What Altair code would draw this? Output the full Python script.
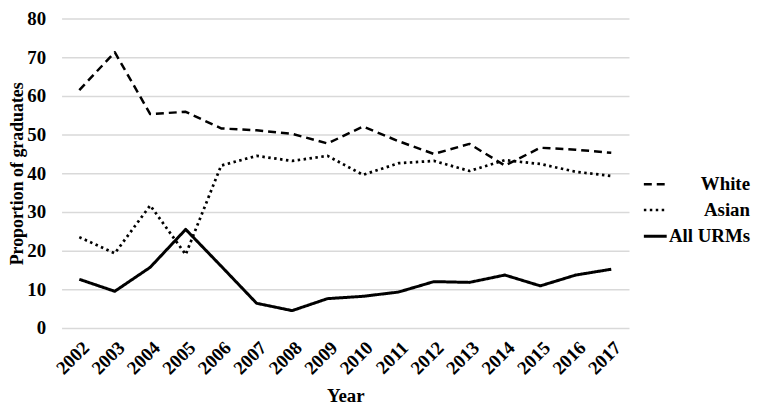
import altair as alt
import pandas as pd

years = [str(y) for y in range(2002, 2018)]
white = [61.5, 71.3, 55.3, 55.9, 51.6, 51.1, 50.2, 47.7, 52.1, 48.3, 45.0, 47.6, 42.0, 46.6, 46.1, 45.3]
asian = [23.5, 19.3, 31.7, 19.0, 42.0, 44.5, 43.2, 44.5, 39.6, 42.6, 43.2, 40.6, 43.4, 42.4, 40.4, 39.3]
urms = [12.6, 9.5, 15.7, 25.5, 16.0, 6.4, 4.5, 7.6, 8.2, 9.3, 12.0, 11.8, 13.7, 10.9, 13.7, 15.2]
groups = ["White", "Asian", "All URMs"]

rows = []
for name, vals in zip(groups, [white, asian, urms]):
    for y, v in zip(years, vals):
        rows.append({"Year": y, "Value": v, "Group": name})
df = pd.DataFrame(rows)

FONT = "Liberation Serif"

chart = alt.Chart(df).mark_line(color="black", strokeCap="butt", strokeJoin="round").encode(
    x=alt.X("Year:O", sort=years,
            scale=alt.Scale(paddingInner=1, paddingOuter=0.5),
            axis=alt.Axis(title="Year", labelAngle=-45, grid=False, domain=False, ticks=False,
                          labelFont=FONT, labelFontWeight="bold", labelFontSize=19, labelColor="black",
                          labelPadding=10, titleFont=FONT, titleFontWeight="bold", titleFontSize=19,
                          titleColor="black", titlePadding=9)),
    y=alt.Y("Value:Q", scale=alt.Scale(domain=[0, 80]),
            axis=alt.Axis(title="Proportion of graduates", values=[0, 10, 20, 30, 40, 50, 60, 70, 80],
                          domain=False, ticks=False, gridColor="#d9d9d9", gridWidth=1.5,
                          labelFont=FONT, labelFontWeight="bold", labelFontSize=19, labelColor="black",
                          labelPadding=16, titleFont=FONT, titleFontWeight="bold", titleFontSize=18,
                          titleColor="black", titlePadding=0)),
    strokeDash=alt.StrokeDash("Group:N", sort=groups,
                              scale=alt.Scale(domain=groups, range=[[8, 5], [2.5, 3.5], [1, 0]]),
                              legend=alt.Legend(title=None, orient="none", legendX=585, legendY=154,
                                                symbolType="stroke", symbolStrokeColor="black",
                                                symbolStrokeWidth=2.5, symbolSize=530,
                                                labelFont=FONT, labelFontWeight="bold", labelFontSize=19,
                                                labelColor="black", labelAlign="right", labelOffset=82,
                                                rowPadding=3)),
    strokeWidth=alt.StrokeWidth("Group:N", sort=groups,
                                scale=alt.Scale(domain=groups, range=[2.5, 3, 3]), legend=None),
).properties(
    width=572, height=312,
    autosize=alt.AutoSizeParams(type="none"),
    padding={"left": 54, "top": 9, "right": 124, "bottom": 82},
).configure_view(stroke=None)

chart.save("out.html", embed_options={"renderer": "svg", "actions": False})
